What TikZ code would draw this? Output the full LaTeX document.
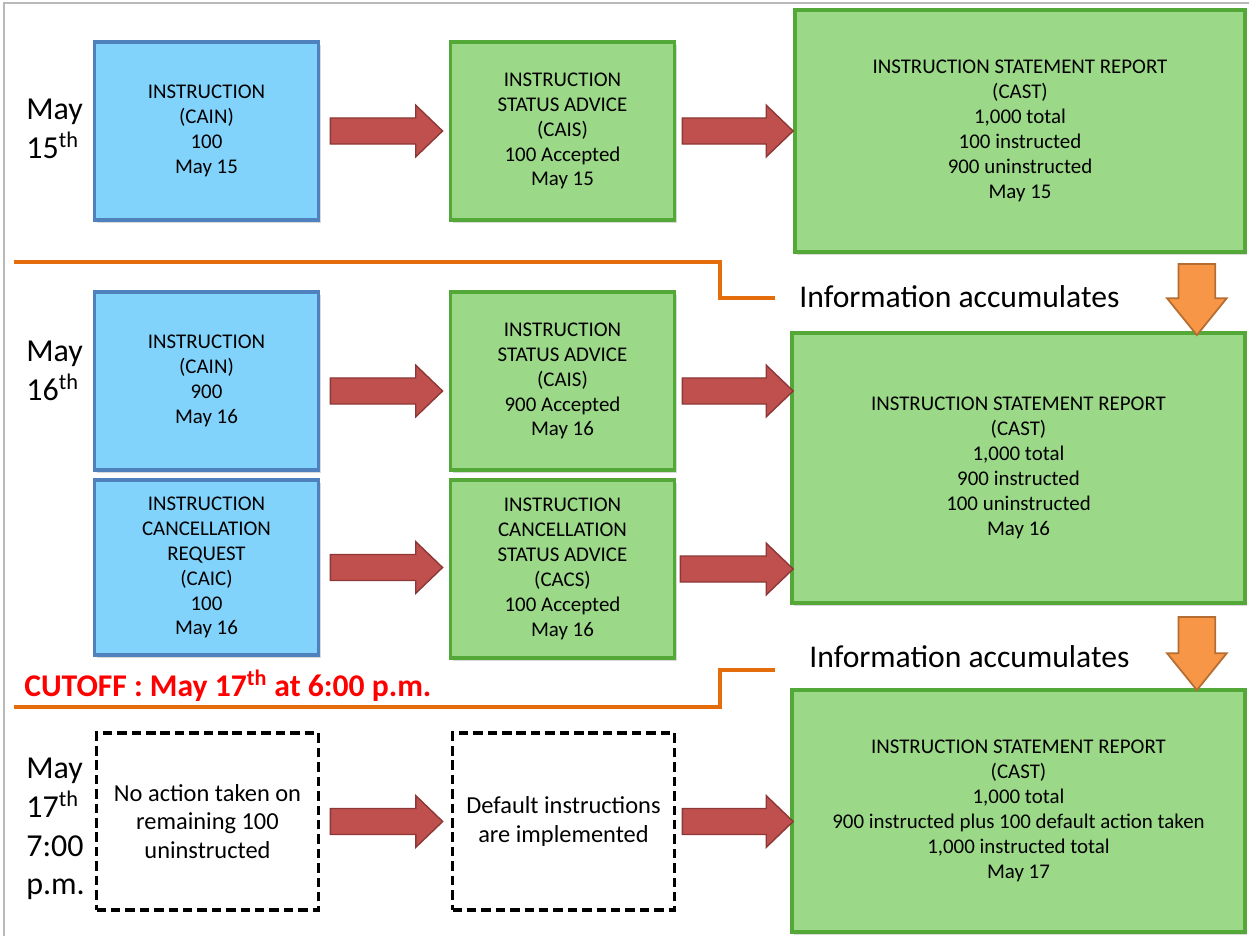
\documentclass[tikz,border=0pt]{standalone}
\usepackage{fontspec}
\setmainfont{Carlito}
\usetikzlibrary{calc,shadows}

\definecolor{boxblue}{RGB}{130,211,252}
\definecolor{boxblueline}{RGB}{79,129,189}
\definecolor{boxgreen}{RGB}{155,216,135}
\definecolor{boxgreenline}{RGB}{84,168,56}
\definecolor{arrowred}{RGB}{192,80,77}
\definecolor{arrowredline}{RGB}{140,56,54}
\definecolor{arroworange}{RGB}{247,150,70}
\definecolor{arroworangeline}{RGB}{182,109,49}
\definecolor{cutline}{RGB}{228,108,10}

\newcommand{\boxfont}{\fontsize{11.9pt}{14.2pt}\selectfont}
\newcommand{\dashfont}{\fontsize{13.9pt}{16pt}\selectfont}
\newcommand{\datefont}{\fontsize{18.2pt}{22pt}\selectfont}

% block arrow, left to right
\newcommand{\redarrow}[2]{%
  \filldraw[redarr] let \p1=(#1), \p2=(#2) in
    (\x1,\y1+7.4pt) -- (\x2-15.3pt,\y1+7.4pt) -- (\x2-15.3pt,\y1+14.7pt)
    -- (\x2,\y1) -- (\x2-15.3pt,\y1-14.7pt) -- (\x2-15.3pt,\y1-7.4pt)
    -- (\x1,\y1-7.4pt) -- cycle;}
% block arrow, top to bottom
\newcommand{\accarrow}[2]{%
  \filldraw[orangearr] let \p1=(#1), \p2=(#2) in
    (\x1-10.5pt,\y1) -- (\x1-10.5pt,\y2+21pt) -- (\x1-17pt,\y2+21pt)
    -- (\x1,\y2) -- (\x1+17pt,\y2+21pt) -- (\x1+10.5pt,\y2+21pt)
    -- (\x1+10.5pt,\y1) -- cycle;}

\begin{document}
\begin{tikzpicture}[x=0.02cm,y=-0.02cm,line join=miter]
	\tikzstyle{box}=[draw,line width=2.2pt,align=center,font=\boxfont,inner sep=2pt,
		minimum width=4.48cm,minimum height=3.56cm,
		drop shadow={opacity=0.3,shadow xshift=1.2pt,shadow yshift=-1.5pt}];
	\tikzstyle{bluebox}=[box,fill=boxblue,draw=boxblueline];
	\tikzstyle{greenbox}=[box,fill=boxgreen,draw=boxgreenline];
	\tikzstyle{dashbox}=[draw=black,line width=2.1pt,dash pattern=on 5.4pt off 2.8pt,
		align=center,font=\dashfont,minimum width=4.44cm,minimum height=3.54cm];
	\tikzstyle{datelbl}=[anchor=west,align=left,font=\datefont,inner sep=0pt];
	\tikzstyle{infolbl}=[anchor=west,font=\fontsize{18pt}{21pt}\selectfont,inner sep=0pt];
	\tikzstyle{redarr}=[fill=arrowred,draw=arrowredline,line width=0.8pt];
	\tikzstyle{orangearr}=[fill=arroworange,draw=arroworangeline,line width=1pt];
	\tikzstyle{cut}=[draw=cutline,line width=1.8pt];

	\useasboundingbox (0,0) rectangle (1249,936);
	\draw[gray!55,line width=1pt] (4,936) -- (4,3) -- (1249,3);

	% May 15th
	\node[datelbl] (dayA) at (26,129) {May\\15\textsuperscript{th}};
	\node[bluebox] (cainA) at (206.5,131) {INSTRUCTION\\(CAIN)\\100\\May 15};
	\node[greenbox] (caisA) at (562.5,131) {INSTRUCTION\\STATUS ADVICE\\(CAIS)\\100 Accepted\\May 15};
	\node[greenbox,minimum width=9cm,minimum height=4.84cm] (castA) at (1020,131)
		{INSTRUCTION STATEMENT REPORT\\(CAST)\\1,000 total\\100 instructed\\900 uninstructed\\May 15};

	\draw[cut] (14,262) -- (720,262) -- (720,298) -- (775,298);
	\node[infolbl] (infoA) at (799,297) {Information accumulates};

	% May 16th
	\node[datelbl] (dayB) at (26,371) {May\\16\textsuperscript{th}};
	\node[bluebox] (cainB) at (206.5,381) {INSTRUCTION\\(CAIN)\\900\\May 16};
	\node[greenbox] (caisB) at (562.5,381) {INSTRUCTION\\STATUS ADVICE\\(CAIS)\\900 Accepted\\May 16};
	\node[bluebox,minimum height=3.5cm] (caicB) at (206.5,567.5)
		{INSTRUCTION\\CANCELLATION\\REQUEST\\(CAIC)\\100\\May 16};
	\node[greenbox] (cacsB) at (562.5,569)
		{INSTRUCTION\\CANCELLATION\\STATUS ADVICE\\(CACS)\\100 Accepted\\May 16};
	\node[greenbox,minimum width=9.06cm,minimum height=5.4cm] (castB) at (1018.5,468)
		{INSTRUCTION STATEMENT REPORT\\(CAST)\\1,000 total\\900 instructed\\100 uninstructed\\May 16};

	\node[anchor=west,text=red,font=\fontsize{18pt}{20pt}\selectfont\bfseries,inner sep=0pt] (cutoff) at (24,686)
		{CUTOFF : May 17\textsuperscript{th} at 6:00 p.m.};
	\draw[cut] (14,707) -- (720,707) -- (720,670) -- (775,670);
	\node[infolbl] (infoB) at (809,657) {Information accumulates};

	% May 17th
	\node[datelbl] (dayC) at (26,829) {May\\17\textsuperscript{th}\\7:00\\p.m.};
	\node[dashbox] (noactC) at (207.5,821.5) {No action taken on\\remaining 100\\uninstructed};
	\node[dashbox] (defaultC) at (563.5,821.5) {Default instructions\\are implemented};
	\node[greenbox,minimum width=9.06cm,minimum height=4.84cm] (castC) at (1018.5,811)
		{INSTRUCTION STATEMENT REPORT\\(CAST)\\1,000 total\\900 instructed plus 100 default action taken\\1,000 instructed total\\May 17};

	% arrows
	\redarrow{$(cainA.east)+(10,0)$}{$(caisA.west)+(-6,0)$}
	\redarrow{$(caisA.east)+(6,0)$}{castA.west}
	\redarrow{$(cainB.east)+(10,10)$}{$(caisB.west)+(-6,0)$}
	\redarrow{$(caisB.east)+(6,10)$}{$(castB.west)+(3,0)$}
	\redarrow{$(caicB.east)+(10,0)$}{$(cacsB.west)+(-6,0)$}
	\redarrow{$(cacsB.east)+(4,0)$}{$(castB.west)+(3,0)$}
	\redarrow{$(noactC.east)+(10,0)$}{$(defaultC.west)+(-8,0)$}
	\redarrow{$(defaultC.east)+(6,0)$}{$(castC.west)+(3,0)$}
	\accarrow{$(castA.south east)+(-50,10)$}{$(castB.north east)+(-50,4)$}
	\accarrow{$(castB.south east)+(-50,12)$}{$(castC.north east)+(-50,2)$}
\end{tikzpicture}
\end{document}
